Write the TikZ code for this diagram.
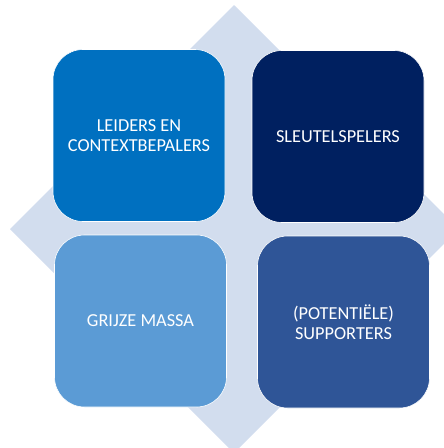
\documentclass[tikz,border=0pt]{standalone}
\usepackage{fontspec}
\setmainfont{Carlito}
\usetikzlibrary{shapes, backgrounds, calc}

\definecolor{ruit}{RGB}{210,221,238}
\definecolor{leidersblauw}{RGB}{0,112,192}
\definecolor{sleutelblauw}{RGB}{0,32,96}
\definecolor{grijsblauw}{RGB}{91,155,213}
\definecolor{supporterblauw}{RGB}{47,85,151}

\tikzset{
	blok/.style={rectangle, rounded corners=30pt, draw=white, line width=0.6pt,
		text=white, align=center, font=\fontsize{18.3}{20}\selectfont,
		minimum width=172pt, minimum height=172pt, inner sep=0pt}
}

\begin{document}
\begin{tikzpicture}[x=1pt, y=-1pt]
				\useasboundingbox (0,0) rectangle (444,448);
				\clip (0,0) rectangle (444,448);
				
				\coordinate (N) at (234, 5);
				\coordinate (O) at (459, 229);
				\coordinate (Z) at (234, 453);
				\coordinate (W) at (10, 229);
				
				\fill[ruit] (N) -- (O) -- (Z) -- (W) -- cycle;
				
				\node[blok, fill=leidersblauw] (leiders) at (139, 135.5) {LEIDERS EN\\CONTEXTBEPALERS};
				\node[blok, fill=sleutelblauw] (sleutel) at (338, 136.5) {SLEUTELSPELERS};
				\node[blok, fill=grijsblauw] (grijze) at (140.5, 321) {GRIJZE MASSA};
				\node[blok, fill=supporterblauw] (supporters) at (343.5, 322) {(POTENTIËLE)\\SUPPORTERS};
				\end{tikzpicture}
\end{document}
